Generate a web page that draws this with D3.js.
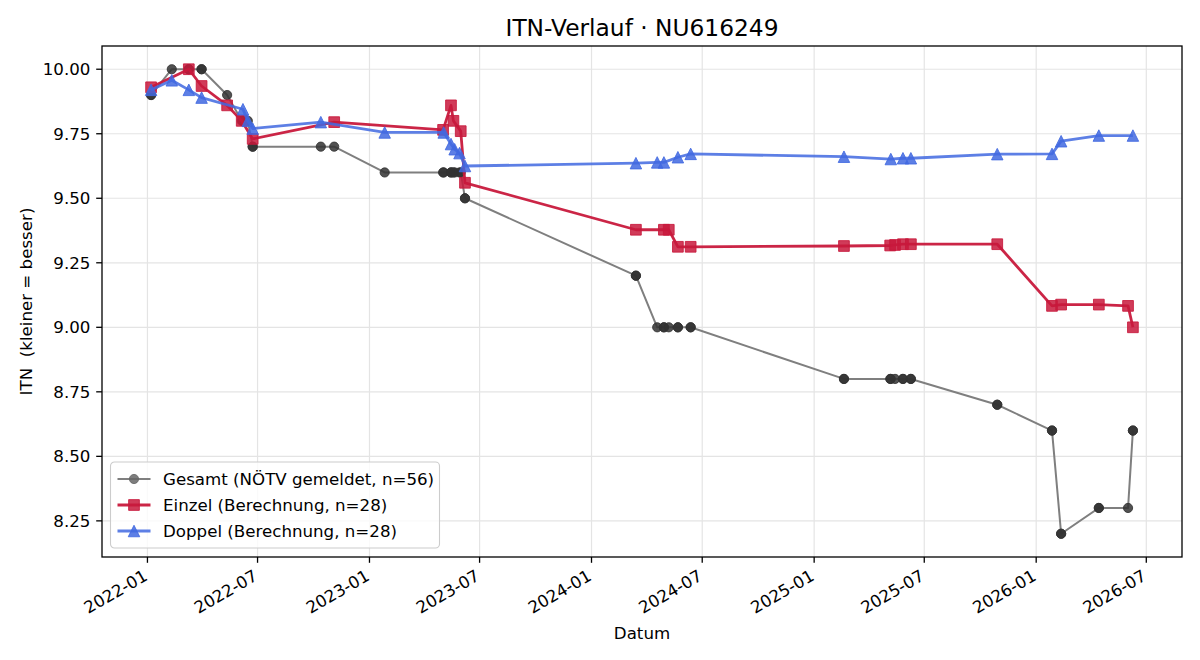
<!DOCTYPE html>
<html>
<head>
<meta charset="utf-8">
<script src="https://cdn.jsdelivr.net/npm/d3@7"></script>
<style>
    html, body { margin: 0; background: #fff; }
    svg { display: block; font-family: "DejaVu Sans", sans-serif; }
</style>
</head>
<body>
<svg id="chart" width="1200" height="660"></svg>
<script>
// ---- data ----
const einzelDates = [
    "2022-01-07", "2022-03-10", "2022-03-31", "2022-05-12", "2022-06-05", "2022-06-23", "2022-11-04",
    "2023-05-02", "2023-05-15", "2023-05-19", "2023-05-31", "2023-06-07",
    "2024-03-14", "2024-04-29", "2024-05-07", "2024-05-22", "2024-06-12",
    "2025-02-19", "2025-05-06", "2025-05-14", "2025-05-27", "2025-06-09", "2025-10-29",
    "2026-01-27", "2026-02-11", "2026-04-14", "2026-06-01", "2026-06-09"
]
const einzelValues = [
    9.93, 10.0, 9.935, 9.86, 9.80, 9.73, 9.795,
    9.765, 9.86, 9.80, 9.76, 9.56,
    9.378, 9.378, 9.378, 9.312, 9.312,
    9.315, 9.317, 9.319, 9.322, 9.322, 9.322,
    9.083, 9.088, 9.088, 9.083, 9.0
]

const doppelDates = [
    "2022-01-07", "2022-02-10", "2022-03-10", "2022-03-31", "2022-06-07", "2022-06-15", "2022-06-23",
    "2022-10-13", "2023-01-26",
    "2023-05-03", "2023-05-15", "2023-05-21", "2023-05-29", "2023-06-07",
    "2024-03-14", "2024-04-18", "2024-04-29", "2024-05-22", "2024-06-12",
    "2025-02-19", "2025-05-07", "2025-05-27", "2025-06-09", "2025-10-29",
    "2026-01-27", "2026-02-11", "2026-04-14", "2026-06-09"
]
const doppelValues = [
    9.92, 9.957, 9.92, 9.89, 9.845, 9.80, 9.77,
    9.795, 9.755,
    9.755, 9.71, 9.69, 9.675, 9.625,
    9.636, 9.639, 9.639, 9.659, 9.672,
    9.661, 9.652, 9.655, 9.655, 9.671,
    9.672, 9.721, 9.743, 9.743
]

const gesamtDates = [
    "2022-01-07", "2022-01-07", "2022-02-10", "2022-03-10", "2022-03-10", "2022-03-31", "2022-03-31", "2022-05-12",
    "2022-06-05", "2022-06-07", "2022-06-15", "2022-06-23", "2022-06-23", "2022-10-13", "2022-11-04", "2023-01-26",
    "2023-05-02", "2023-05-03", "2023-05-15", "2023-05-15", "2023-05-19", "2023-05-21", "2023-05-29", "2023-05-31",
    "2023-06-07", "2023-06-07",
    "2024-03-14", "2024-03-14", "2024-04-18", "2024-04-29", "2024-04-29", "2024-05-07", "2024-05-22", "2024-05-22",
    "2024-06-12", "2024-06-12",
    "2025-02-19", "2025-02-19", "2025-05-06", "2025-05-07", "2025-05-14", "2025-05-27", "2025-05-27", "2025-06-09",
    "2025-06-09", "2025-10-29", "2025-10-29",
    "2026-01-27", "2026-01-27", "2026-02-11", "2026-02-11", "2026-04-14", "2026-04-14", "2026-06-01", "2026-06-09",
    "2026-06-09"
]
const gesamtValues = [
    9.9, 9.9, 10.0, 10.0, 10.0, 10.0, 10.0, 9.9,
    9.8, 9.8, 9.8, 9.7, 9.7, 9.7, 9.7, 9.6,
    9.6, 9.6, 9.6, 9.6, 9.6, 9.6, 9.6, 9.6,
    9.5, 9.5,
    9.2, 9.2, 9.0, 9.0, 9.0, 9.0, 9.0, 9.0,
    9.0, 9.0,
    8.8, 8.8, 8.8, 8.8, 8.8, 8.8, 8.8, 8.8,
    8.8, 8.7, 8.7,
    8.6, 8.6, 8.2, 8.2, 8.3, 8.3, 8.3, 8.6,
    8.6
]

const seriesLabels = [
    "Gesamt (NÖTV gemeldet, n=56)",
    "Einzel (Berechnung, n=28)",
    "Doppel (Berechnung, n=28)"
]
const yTicks = [8.25, 8.5, 8.75, 9.0, 9.25, 9.5, 9.75, 10.0]

const title = "ITN-Verlauf · NU616249"
const xTitle = "Datum"
const yTitle = "ITN  (kleiner = besser)"

// ---- layout ----
const margin = { left: 102, right: 1182, top: 46, bottom: 557 }
const fs = 16.67

const parse = d3.timeParse("%Y-%m-%d")

const series = [
    {
        label: seriesLabels[0], shape: "circle",
        line: "#7f7f7f", lineWidth: 2, lineOpacity: 1,
        fill: "#333333", fillOpacity: 0.85, legendFill: "#666666",
        points: gesamtDates.map((d, i) => ({ date: parse(d), value: gesamtValues[i] })),
    },
    {
        label: seriesLabels[1], shape: "square",
        line: "#c8193c", lineWidth: 2.8, lineOpacity: 0.95,
        fill: "#c8193c", fillOpacity: 0.85, legendFill: "#c8193c",
        points: einzelDates.map((d, i) => ({ date: parse(d), value: einzelValues[i] })),
    },
    {
        label: seriesLabels[2], shape: "triangle",
        line: "#4169e1", lineWidth: 2.8, lineOpacity: 0.85,
        fill: "#4169e1", fillOpacity: 0.85, legendFill: "#4169e1",
        points: doppelDates.map((d, i) => ({ date: parse(d), value: doppelValues[i] })),
    },
]

const all = series.flatMap((s) => s.points)

// matplotlib-like 5% margins
const [t0, t1] = d3.extent(all, (d) => d.date)
const tPad = (t1 - t0) * 0.05
const x = d3.scaleTime()
    .domain([new Date(+t0 - tPad), new Date(+t1 + tPad)])
    .range([margin.left, margin.right])

const [v0, v1] = d3.extent(all, (d) => d.value)
const vPad = (v1 - v0) * 0.05
const y = d3.scaleLinear()
    .domain([v0 - vPad, v1 + vPad])
    .range([margin.bottom, margin.top])

const svg = d3.select("#chart")
const xTicks = x.ticks(d3.timeMonth.every(6))

// grid
const grid = svg.append("g").attr("stroke", "#e4e4e4").attr("stroke-width", 1.2)
grid.selectAll("line.gx").data(xTicks).join("line")
    .attr("x1", (d) => x(d)).attr("x2", (d) => x(d))
    .attr("y1", margin.top).attr("y2", margin.bottom)
grid.selectAll("line.gy").data(yTicks).join("line")
    .attr("x1", margin.left).attr("x2", margin.right)
    .attr("y1", (d) => y(d)).attr("y2", (d) => y(d))

svg.append("clipPath").attr("id", "plotclip")
    .append("rect")
    .attr("x", margin.left).attr("y", margin.top)
    .attr("width", margin.right - margin.left).attr("height", margin.bottom - margin.top)

function markerPath(shape) {
    if (shape === "square") return d3.symbol(d3.symbolSquare, 115)()
    if (shape === "triangle") {
        const h = 11.5
        return `M0,${-h / 2}L${h / 2},${h / 2}L${-h / 2},${h / 2}Z`
    }
    return d3.symbol(d3.symbolCircle, Math.PI * 4.6 * 4.6)()
}

const line = d3.line().x((d) => x(d.date)).y((d) => y(d.value))

const plot = svg.append("g").attr("clip-path", "url(#plotclip)")
series.forEach((s) => {
    const g = plot.append("g")
    g.append("path")
        .datum(s.points)
        .attr("fill", "none")
        .attr("stroke", s.line)
        .attr("stroke-width", s.lineWidth)
        .attr("stroke-opacity", s.lineOpacity)
        .attr("stroke-linejoin", "round")
        .attr("d", line)
    g.selectAll("path.m").data(s.points).join("path")
        .attr("class", "m")
        .attr("d", markerPath(s.shape))
        .attr("transform", (d) => `translate(${x(d.date)},${y(d.value)})`)
        .attr("fill", s.fill)
        .attr("fill-opacity", s.fillOpacity)
        .attr("stroke", s.fill)
        .attr("stroke-opacity", s.fillOpacity)
        .attr("stroke-width", 1)
})

// frame
svg.append("rect")
    .attr("x", margin.left).attr("y", margin.top)
    .attr("width", margin.right - margin.left).attr("height", margin.bottom - margin.top)
    .attr("fill", "none").attr("stroke", "#000").attr("stroke-width", 1.3)

// y axis ticks
const yAxis = svg.append("g")
yAxis.selectAll("line").data(yTicks).join("line")
    .attr("x1", margin.left - 5.8).attr("x2", margin.left)
    .attr("y1", (d) => y(d)).attr("y2", (d) => y(d))
    .attr("stroke", "#000").attr("stroke-width", 1.3)
yAxis.selectAll("text").data(yTicks).join("text")
    .attr("x", margin.left - 11.6)
    .attr("y", (d) => y(d))
    .attr("dy", "0.36em")
    .attr("text-anchor", "end")
    .attr("font-size", fs)
    .attr("fill", "#000")
    .text(d3.format(".2f"))

// x axis ticks
const xAxis = svg.append("g")
xAxis.selectAll("line").data(xTicks).join("line")
    .attr("x1", (d) => x(d)).attr("x2", (d) => x(d))
    .attr("y1", margin.bottom).attr("y2", margin.bottom + 5.8)
    .attr("stroke", "#000").attr("stroke-width", 1.3)
xAxis.selectAll("text").data(xTicks).join("text")
    .attr("transform", (d) => `translate(${x(d) - 5},${margin.bottom + 11.6}) rotate(-30)`)
    .attr("dy", "0.74em")
    .attr("text-anchor", "end")
    .attr("font-size", fs)
    .attr("fill", "#000")
    .text(d3.timeFormat("%Y-%m"))

// titles
const cx = (margin.left + margin.right) / 2
svg.append("text")
    .attr("x", cx).attr("y", 36)
    .attr("text-anchor", "middle")
    .attr("font-size", 23.3)
    .text(title)
svg.append("text")
    .attr("x", cx).attr("y", 639)
    .attr("text-anchor", "middle")
    .attr("font-size", fs)
    .text(xTitle)
svg.append("text")
    .attr("transform", `translate(26,${(margin.top + margin.bottom) / 2}) rotate(-90)`)
    .attr("dy", "0.36em")
    .attr("text-anchor", "middle")
    .attr("font-size", fs)
    .style("white-space", "pre")
    .text(yTitle)

// legend
const lg = svg.append("g").attr("transform", `translate(110.5,462)`)
lg.append("rect")
    .attr("width", 329).attr("height", 86).attr("rx", 4)
    .attr("fill", "#fff").attr("fill-opacity", 0.8)
    .attr("stroke", "#cccccc").attr("stroke-width", 1.1)
series.forEach((s, i) => {
    const row = lg.append("g").attr("transform", `translate(0,${17 + i * 26})`)
    row.append("line")
        .attr("x1", 7).attr("x2", 40)
        .attr("stroke", s.line).attr("stroke-width", s.lineWidth)
        .attr("stroke-opacity", s.lineOpacity)
    row.append("path")
        .attr("d", markerPath(s.shape))
        .attr("transform", "translate(23.5,0)")
        .attr("fill", s.legendFill).attr("fill-opacity", s.fillOpacity)
        .attr("stroke", s.legendFill).attr("stroke-opacity", s.fillOpacity)
    row.append("text")
        .attr("x", 52.5).attr("dy", "0.36em")
        .attr("font-size", fs)
        .text(s.label)
})
</script>
</body>
</html>
